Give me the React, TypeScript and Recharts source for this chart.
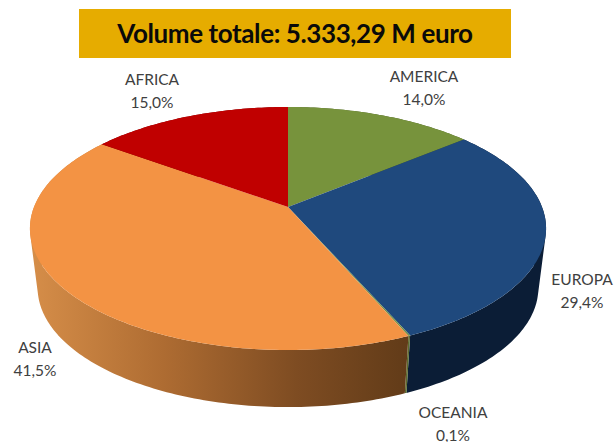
import React from "react";
import { Pie, PieChart } from "recharts";

const regions = ["AMERICA", "EUROPA", "OCEANIA", "ASIA", "AFRICA"];
const shares = [14.0, 29.4, 0.1, 41.5, 15.0];
const topColors = ["#77933C", "#1F497D", "#6F8F4A", "#F39344", "#C00000"];
const wallColors = ["#4A5C25", "#0B1D36", "#5C6B2E", "url(#asiaWall)", "#7A0000"];
const title = "Volume totale: 5.333,29 M euro";

// label centres and first-line baselines
const labelSpots = [
  { x: 424, y: 82 },
  { x: 582, y: 285 },
  { x: 453, y: 418 },
  { x: 35, y: 353 },
  { x: 152, y: 85 },
];

const topRows = regions.map((name, i) => ({ name, value: shares[i], fill: topColors[i] }));
const wallRows = regions.map((name, i) => ({ name, value: shares[i], fill: wallColors[i] }));

type Pt = { x: number; y: number };

// perspective: the apex of the pie sits above the centre of the ellipse
const TILT = 0.177;
const SQUASH = 0.4634;
const RAD = Math.PI / 180;

function project(cx: number, cy: number, r: number, deg: number): Pt {
  const u = Math.cos(deg * RAD);
  const v = Math.sin(deg * RAD);
  const d = 1 + TILT * v;
  return { x: cx + (r * u) / d, y: cy - (r * SQUASH * v) / d };
}

// the bottom rim is the top rim pushed down and a little narrower
function dropRim(p: Pt, cx: number): Pt {
  return { x: cx + (p.x - cx) * 0.97, y: 288 + (p.y - 228.5) * 0.98 };
}

function rimPoints(props: any) {
  const { cx, cy, outerRadius, startAngle, endAngle } = props;
  const steps = Math.max(2, Math.ceil(Math.abs(endAngle - startAngle)));
  const pts: Pt[] = [];
  for (let i = 0; i <= steps; i++) {
    pts.push(project(cx, cy, outerRadius, startAngle + ((endAngle - startAngle) * i) / steps));
  }
  return pts;
}

const toPath = (pts: Pt[]) =>
  "M" + pts.map((p) => `${p.x.toFixed(2)},${p.y.toFixed(2)}`).join("L") + "Z";

function TopSlice(props: any) {
  const pts = [{ x: props.cx, y: props.cy }, ...rimPoints(props)];
  return <path d={toPath(pts)} fill={props.fill} stroke="none" />;
}

// one quad per rim step, all wound the same way so the union fills with no gaps
function WallSlice(props: any) {
  const rim = rimPoints(props);
  let d = "";
  for (let i = 0; i < rim.length - 1; i++) {
    const quad = [rim[i], rim[i + 1], dropRim(rim[i + 1], props.cx), dropRim(rim[i], props.cx)];
    let area = 0;
    quad.forEach((p, j) => {
      const q = quad[(j + 1) % 4];
      area += p.x * q.y - q.x * p.y;
    });
    d += toPath(area < 0 ? quad.reverse() : quad);
  }
  return <path d={d} fill={props.fill} stroke="none" />;
}

function SliceLabel(props: any) {
  const spot = labelSpots[props.index];
  const text = shares[props.index].toFixed(1).replace(".", ",") + "%";
  return (
    <text textAnchor="middle" fontFamily="Lato" fontSize={15.5} fill="#404040">
      <tspan x={spot.x} y={spot.y}>
        {regions[props.index]}
      </tspan>
      <tspan x={spot.x} y={spot.y + 22.5}>
        {text}
      </tspan>
    </text>
  );
}

export default function App() {
  return (
    <div style={{ position: "absolute", left: 0, top: 0, width: 614, height: 442, background: "#fff" }}>
      <PieChart width={614} height={442} margin={{ top: 0, right: 0, bottom: 0, left: 0 }}>
        <defs>
          <linearGradient id="asiaWall" gradientUnits="userSpaceOnUse" x1="30" y1="0" x2="411" y2="0">
            <stop offset="0%" stopColor="#D68E49" />
            <stop offset="35%" stopColor="#AE6C32" />
            <stop offset="70%" stopColor="#7E4C22" />
            <stop offset="100%" stopColor="#613B18" />
          </linearGradient>
        </defs>
        <Pie
          data={wallRows}
          dataKey="value"
          cx={288}
          cy={207}
          outerRadius={254}
          startAngle={90}
          endAngle={-270}
          shape={WallSlice}
          stroke="none"
          isAnimationActive={false}
        />
        <Pie
          data={topRows}
          dataKey="value"
          cx={288}
          cy={207}
          outerRadius={254}
          startAngle={90}
          endAngle={-270}
          shape={TopSlice}
          stroke="none"
          label={SliceLabel}
          labelLine={false}
          isAnimationActive={false}
        />
      </PieChart>
      <div
        style={{
          position: "absolute",
          left: 79,
          top: 9,
          width: 432,
          height: 49,
          background: "#E6AC00",
          color: "#0A0A0A",
          fontFamily: "Lato",
          fontWeight: 700,
          fontSize: 26,
          letterSpacing: -0.4,
          lineHeight: "49px",
          textAlign: "center",
          whiteSpace: "nowrap",
        }}
      >
        {title}
      </div>
    </div>
  );
}
